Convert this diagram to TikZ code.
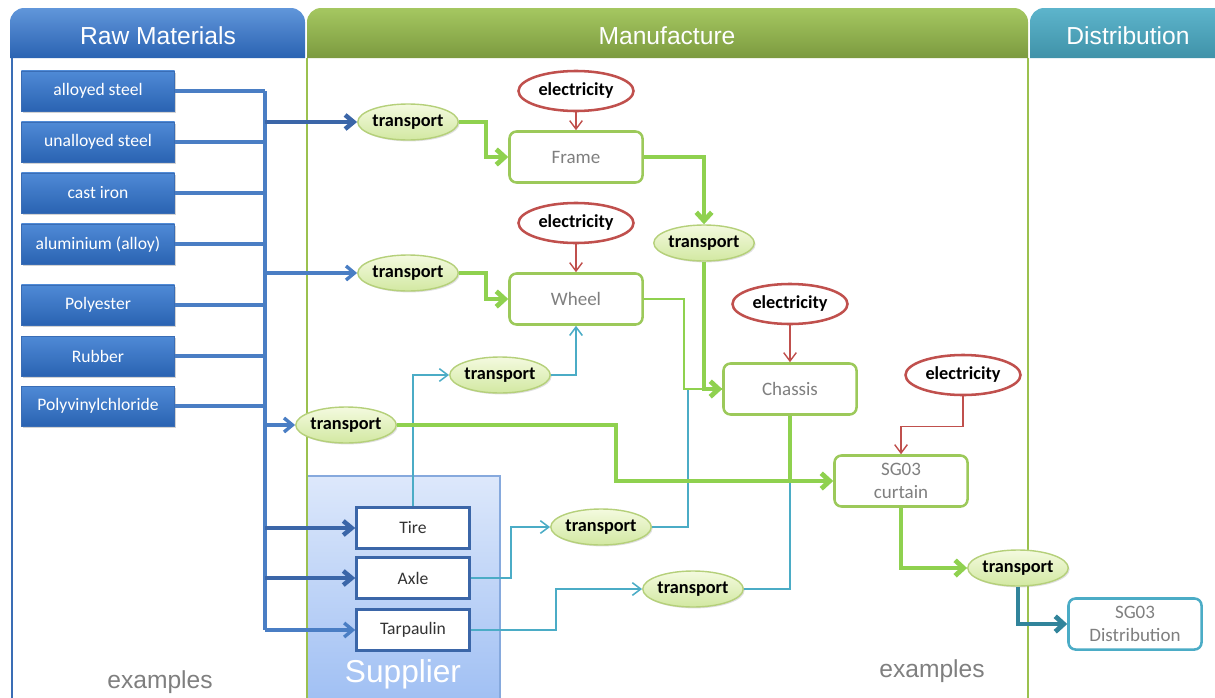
\documentclass[tikz,border=0pt]{standalone}
\usepackage{fontspec}
\setmainfont{Carlito}
\newfontfamily\headfont{Liberation Sans}
\usetikzlibrary{arrows.meta,shapes.geometric,shadows}
\definecolor{rawtop}{HTML}{4F8AD6}
\definecolor{rawbot}{HTML}{2A63B2}
\definecolor{rawedge}{HTML}{3A6DB5}
\definecolor{busblue}{HTML}{4A7EC4}
\definecolor{busdark}{HTML}{3B66A8}
\definecolor{colgreen}{HTML}{9BC14F}
\definecolor{flowgreen}{HTML}{8FD14F}
\definecolor{boxgreen}{HTML}{9CC95A}
\definecolor{elltop}{HTML}{F4FADF}
\definecolor{ellbot}{HTML}{D2E8A2}
\definecolor{elledge}{HTML}{B5D07A}
\definecolor{elecred}{HTML}{C0504D}
\definecolor{supcyan}{HTML}{4BACC6}
\definecolor{distteal}{HTML}{31849B}
\definecolor{txtgray}{HTML}{7F7F7F}
\definecolor{suptop}{HTML}{DDE8FB}
\definecolor{supbot}{HTML}{9FBFF3}
\definecolor{supedge}{HTML}{86A9DD}
\begin{document}
\begin{tikzpicture}[x=0.025cm, y=-0.025cm,
    raw/.style={rectangle, draw=rawedge, top color=rawtop, bottom color=rawbot, text=white,
      minimum width=3.825cm, minimum height=1cm, font=\fontsize{12.5}{14}\selectfont,
      drop shadow={opacity=.35, shadow xshift=1.2pt, shadow yshift=-1.2pt}},
    trans/.style={ellipse, draw=elledge, line width=1pt, top color=elltop, bottom color=ellbot,
      minimum width=2.5cm, minimum height=0.9cm, inner sep=0pt, font=\fontsize{13}{15}\selectfont\bfseries,
      drop shadow={opacity=.25, shadow xshift=1pt, shadow yshift=-1pt}},
    elec/.style={ellipse, draw=elecred, line width=1.8pt, fill=white, minimum width=2.875cm,
      minimum height=1cm, inner sep=0pt, font=\fontsize{13}{15}\selectfont\bfseries},
    proc/.style={rectangle, rounded corners=5pt, draw=boxgreen, line width=1.8pt, fill=white,
      text=txtgray, minimum width=3.325cm, minimum height=1.275cm, align=center,
      font=\fontsize{13.5}{16}\selectfont},
    part/.style={rectangle, draw=busdark, line width=1.8pt, fill=white, text=black!80,
      minimum width=2.825cm, minimum height=1.025cm, font=\fontsize{12.5}{14}\selectfont},
    head/.style={text=white, font=\headfont\fontsize{17.5}{20}\selectfont},
    note/.style={text=txtgray, font=\headfont\fontsize{17.5}{20}\selectfont},
    bus/.style={draw=busblue, line width=2.4pt},
    busarr/.style={bus, -{Straight Barb[length=6pt,width=10pt]}},
    green/.style={draw=flowgreen, line width=3.4pt, -{Straight Barb[length=6pt,width=11pt]}},
    thingreen/.style={draw=flowgreen, line width=1.8pt},
    red/.style={draw=elecred, line width=1pt, -{Straight Barb[length=6pt,width=9pt]}},
    cyan/.style={draw=supcyan, line width=1.1pt, -{Straight Barb[length=6pt,width=9pt]}}]
    \useasboundingbox (0,0) rectangle (1215,697);
    \shade[top color=suptop, bottom color=supbot, draw=supedge, line width=1pt] (307,476) rectangle (500,705);
    \node[text=white, font=\headfont\fontsize{22.5}{26}\selectfont] (supplier) at (403,674) {Supplier};
    \shade[top color=rawtop!90, bottom color=rawbot] (10,58) [rounded corners=10pt] -- (10,8) -- (305,8) [sharp corners] -- (305,58) -- cycle;
    \shade[top color=colgreen!90!white, bottom color=colgreen!80!black] (307,58) [rounded corners=10pt] -- (307,8) -- (1028,8) [sharp corners] -- (1028,58) -- cycle;
    \shade[top color=supcyan!90!white, bottom color=supcyan!85!black] (1030,58) [rounded corners=10pt] -- (1030,8) -- (1230,8) [sharp corners] -- (1230,58) -- cycle;
    \draw[rawedge, line width=1.8pt] (12,58) -- (12,705);
    \draw[colgreen, line width=2pt] (307,58) -- (307,705) (1028,58) -- (1028,705);
    \node[head] (rawhead) at (158,36) {Raw Materials};
    \node[head] (manhead) at (667,36) {Manufacture};
    \node[head] (disthead) at (1128,36) {Distribution};
    \node[note] (ex1) at (160,682) {examples};
    \node[note] (ex2) at (932,671) {examples};

    \node[raw] (alloy) at (98,91) {alloyed steel};
    \node[raw] (unalloy) at (98,142) {unalloyed steel};
    \node[raw] (cast) at (98,193) {cast iron};
    \node[raw] (alu) at (98,244) {aluminium (alloy)};
    \node[raw] (poly) at (98,305) {Polyester};
    \node[raw] (rubber) at (98,356) {Rubber};
    \node[raw] (pvc) at (98,406) {Polyvinylchloride};
    \coordinate (bustop) at (265,91);
    \coordinate (busbot) at (265,630);

    \node[trans] (t1) at (408,122) {transport};
    \node[trans] (t2) at (408,273) {transport};
    \node[trans] (t3) at (346,425) {transport};
    \node[trans] (t4) at (704,243) {transport};
    \node[trans] (t5) at (500,375) {transport};
    \node[trans] (t6) at (601,527) {transport};
    \node[trans] (t7) at (693,589) {transport};
    \node[trans] (t8) at (1018,568) {transport};
    \node[elec] (el1) at (576,91) {electricity};
    \node[elec] (el2) at (576,223) {electricity};
    \node[elec] (el3) at (790,304) {electricity};
    \node[elec] (el4) at (963,375) {electricity};
    \node[proc] (frame) at (576,157) {Frame};
    \node[proc] (wheel) at (576,299) {Wheel};
    \node[proc] (chassis) at (790,389) {Chassis};
    \node[proc] (curtain) at (901,481) {SG03\\curtain};
    \node[proc, draw=supcyan] (dist) at (1135,624) {SG03\\Distribution};
    \node[part] (tire) at (413,528) {Tire};
    \node[part] (axle) at (413,578) {Axle};
    \node[part] (tarp) at (413,630) {Tarpaulin};
    \coordinate (join) at (chassis.south |- curtain.west);

    \draw[bus, line width=3.2pt] (bustop) -- (busbot);
    \draw[bus, line width=3.2pt] (alloy.east) -- (alloy.east -| bustop);
    \draw[bus, line width=3.2pt] (unalloy.east) -- (unalloy.east -| bustop);
    \foreach \m in {cast, alu, poly, rubber, pvc}
      \draw[bus] (\m.east) -- (\m.east -| bustop);
    \draw[busarr, draw=busdark, line width=3.2pt] (t1.west -| bustop) -- (t1.west);
    \draw[busarr] (t2.west -| bustop) -- (t2.west);
    \draw[busarr] (t3.west -| bustop) -- (t3.west);
    \draw[busarr, draw=busdark, line width=3.2pt] (tire.west -| bustop) -- (tire.west);
    \draw[busarr, draw=busdark, line width=3.2pt] (axle.west -| bustop) -- (axle.west);
    \draw[busarr] (tarp.west -| bustop) -- (tarp.west);

    \draw[cyan] (tire.north) |- (t5.west);
    \draw[cyan] (t5.east) -| (wheel.south);
    \draw[cyan] (axle.east) -- ++(40,0) |- (t6.west);
    \draw[cyan, -] (t6.east) -- ++(36,0) |- (chassis.west);
    \draw[cyan] (tarp.east) -- ++(85,0) |- (t7.west);
    \draw[cyan, -] (t7.east) -| (join);

    \draw[thingreen] (wheel.east) -- ++(40,0) |- (chassis.west);
    \draw[thingreen, line width=2.6pt] (chassis.south) -- (join);
    \draw[green] (t1.east) -- ++(27,0) |- (frame.west);
    \draw[green] (t2.east) -- ++(27,0) |- (wheel.west);
    \draw[green] (frame.east) -| (t4.north);
    \draw[green] (t4.south) |- (chassis.west);
    \draw[green] (t3.east) -- ++(219,0) |- (curtain.west);
    \draw[green] (curtain.south) |- (t8.west);
    \draw[green, draw=distteal] (t8.south) |- (dist.west);

    \draw[red] (el1) -- (frame);
    \draw[red] (el2) -- (wheel);
    \draw[red] (el3) -- (chassis);
    \draw[red] (el4.south) -- ++(0,30) -| (curtain.north);
\end{tikzpicture}
\end{document}
